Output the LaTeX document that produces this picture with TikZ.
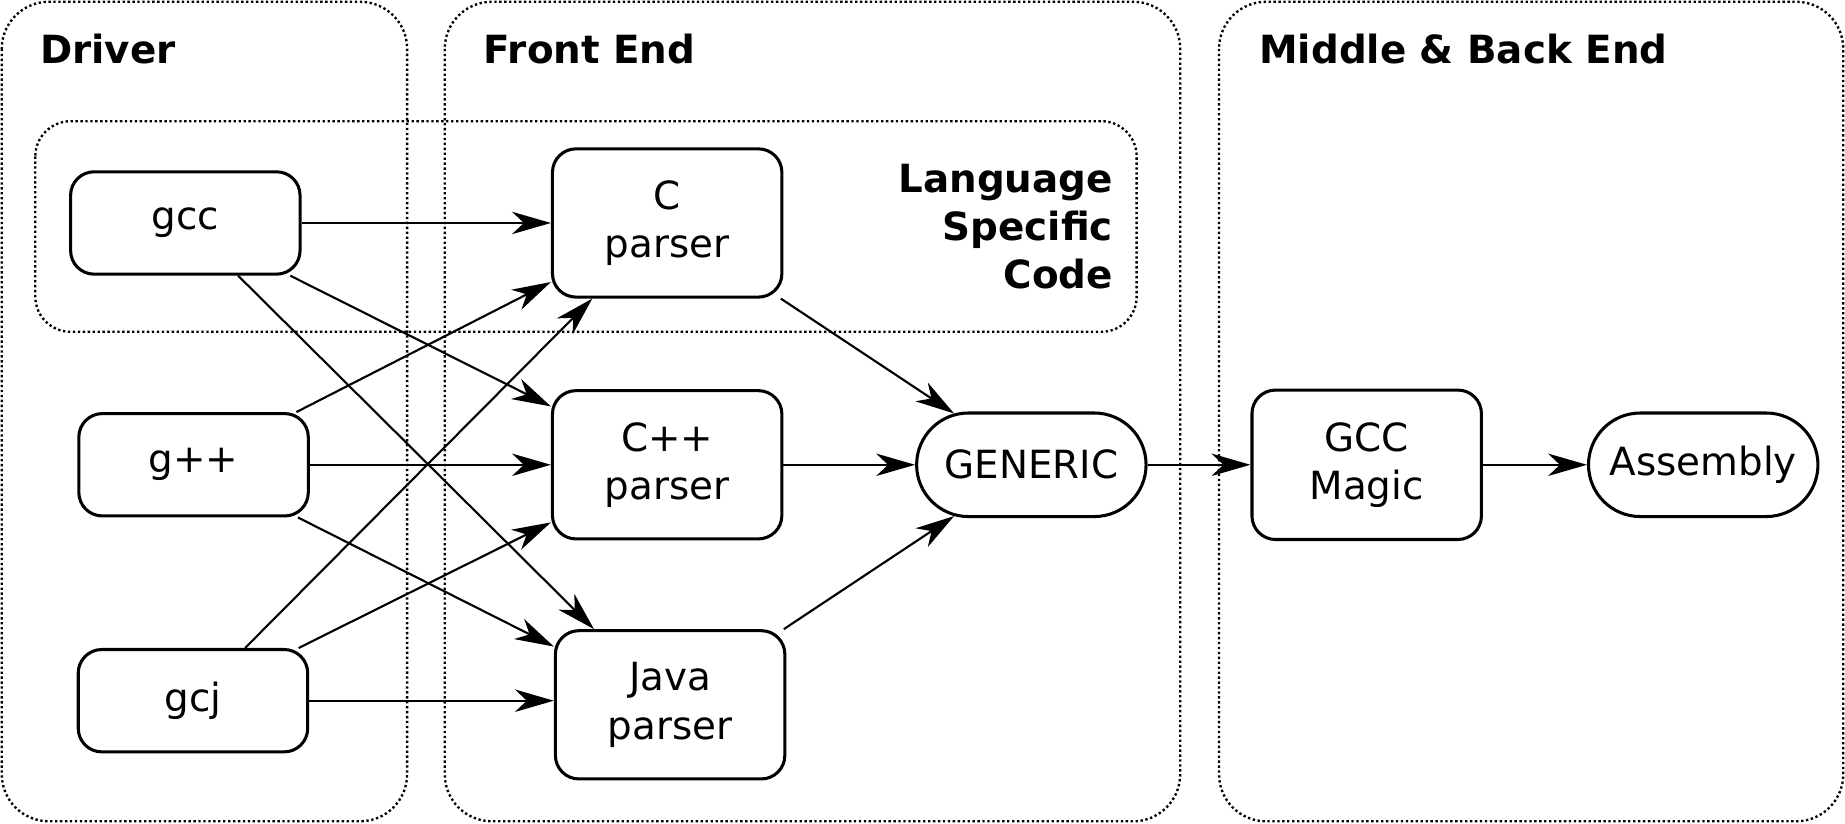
\documentclass[tikz,border=0pt]{standalone}
\usepackage{fontspec}
\setmainfont{DejaVu Sans}
\usetikzlibrary{shapes.misc, arrows.meta, positioning}

\begin{document}
\begin{tikzpicture}[
  x=1pt, y=-1pt,
  group/.style={dash pattern=on 2pt off 2.2pt, line width=2pt, rounded corners=40pt},
  title/.style={inner sep=0pt, font=\fontsize{33}{41}\selectfont\bfseries},
  tool/.style={draw, line width=2.6pt, rounded corners=20pt, minimum width=195pt, minimum height=87pt, align=center, font=\fontsize{33}{41}\selectfont},
  parser/.style={tool, minimum height=126pt},
  repr/.style={draw, line width=2.6pt, rounded rectangle, minimum width=195pt, minimum height=88pt, inner sep=0pt, font=\fontsize{33}{41}\selectfont},
  flow/.style={-{Stealth[length=33pt, width=19pt, inset=10pt]}, line width=1.8pt}
]
  \useasboundingbox (0,0) rectangle (1568,700);

  \draw[group] (1.5,1.5) rectangle (346,698);
  \draw[group] (378,1.5) rectangle (1003,698);
  \draw[group] (1036,1.5) rectangle (1566.5,698);
  \draw[group, rounded corners=30pt] (30,103) rectangle (966,282);

  \node[title, anchor=base west] (driver) at (34,54) {Driver};
  \node[title, anchor=base west] (front) at (411,54) {Front End};
  \node[title, anchor=base west] (back) at (1070,54) {Middle \& Back End};
  \node[title, anchor=north east, align=right] (lsc) at (946,139) {Language\\Specific\\Code};

  \node[tool] (gcc) at (157.5,189.5) {gcc};
  \node[tool] (gpp) at (164.5,395) {g++};
  \node[tool] (gcj) at (164,595.5) {gcj};

  \node[parser] (cpar) at (567,189.5) {C\\parser};
  \node[parser] (cpppar) at (567,395) {C++\\parser};
  \node[parser] (javapar) at (569.5,599) {Java\\parser};

  \node[repr] (generic) at (876.5,395) {GENERIC};
  \node[tool, minimum height=127pt] (magic) at (1161.5,395) {GCC\\Magic};
  \node[repr] (asm) at (1447.5,395) {Assembly};

  \draw[flow] (gcc.east) -- (cpar.west);
  \draw[flow] (gcc) -- (cpppar);
  \draw[flow] (gcc) -- (javapar);
  \draw[flow] (gpp) -- (cpar);
  \draw[flow] (gpp.east) -- (cpppar.west);
  \draw[flow] (gpp) -- (javapar);
  \draw[flow] (gcj) -- (cpar);
  \draw[flow] (gcj) -- (cpppar);
  \draw[flow] (gcj.east) -- (gcj.east -| javapar.west);
  \draw[flow] (cpar) -- (generic);
  \draw[flow] (cpppar.east) -- (generic.west);
  \draw[flow] (javapar) -- (generic);
  \draw[flow] (generic.east) -- (magic.west);
  \draw[flow] (magic.east) -- (asm.west);
\end{tikzpicture}
\end{document}
